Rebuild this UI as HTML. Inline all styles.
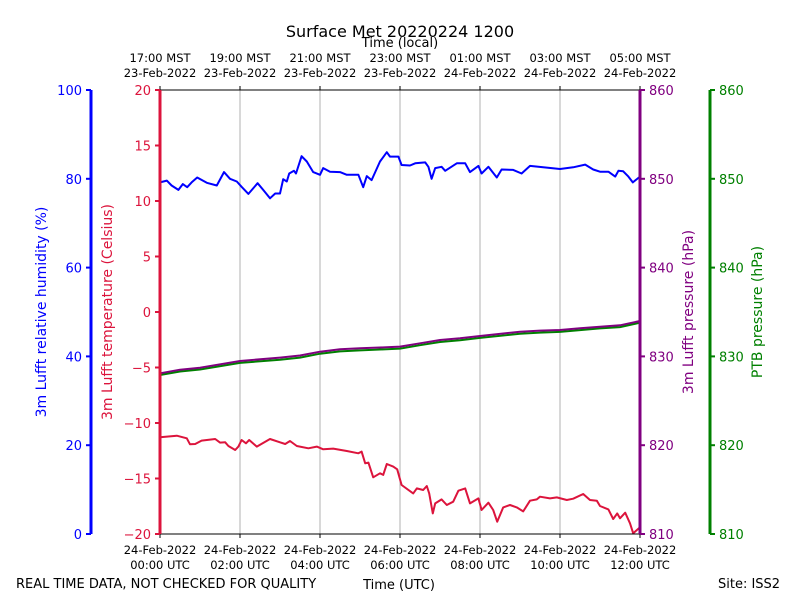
<!DOCTYPE html>
<html><head><meta charset="utf-8"><style>
body{margin:0;background:#fff}
svg{display:block;font-family:"DejaVu Sans","Liberation Sans",sans-serif}
</style></head><body>
<svg id="chart" width="800" height="600" viewBox="0 0 800 600" xmlns="http://www.w3.org/2000/svg">
<text x="400" y="37" font-size="16" text-anchor="middle">Surface Met 20220224 1200</text>
<text x="400" y="47" font-size="13" text-anchor="middle">Time (local)</text>
<text x="399" y="589" font-size="13" text-anchor="middle">Time (UTC)</text>
<text x="16" y="588" font-size="13">REAL TIME DATA, NOT CHECKED FOR QUALITY</text>
<text x="718" y="588" font-size="13">Site: ISS2</text>
<text transform="translate(46,312) rotate(-90)" font-size="14" fill="#0000ff" text-anchor="middle">3m Lufft relative humidity (%)</text>
<text transform="translate(112,312) rotate(-90)" font-size="14" fill="#dc143c" text-anchor="middle">3m Lufft temperature (Celsius)</text>
<text transform="translate(693,312) rotate(-90)" font-size="14" fill="#800080" text-anchor="middle">3m Lufft pressure (hPa)</text>
<text transform="translate(762,312) rotate(-90)" font-size="14" fill="#008000" text-anchor="middle">PTB pressure (hPa)</text>
<g id="g"></g>
</svg>
<script>
const humHours=[0,0.17,0.29,0.46,0.57,0.68,0.79,0.93,1.17,1.42,1.6,1.75,1.92,2.04,2.21,2.44,2.58,2.75,2.88,3.0,3.08,3.17,3.23,3.35,3.4,3.54,3.67,3.83,4.0,4.08,4.25,4.5,4.67,4.96,5.08,5.17,5.29,5.5,5.67,5.75,5.96,6.04,6.25,6.38,6.63,6.71,6.79,6.88,7.04,7.13,7.42,7.63,7.75,7.96,8.04,8.21,8.42,8.54,8.83,9.04,9.25,9.58,10.0,10.33,10.63,10.83,11.0,11.21,11.38,11.46,11.58,11.71,11.82,12.0];
const humidity=[79.2,79.6,78.5,77.5,78.8,78.1,79.2,80.3,79.1,78.5,81.5,80.0,79.4,78.2,76.6,79.0,77.5,75.6,76.7,76.7,79.9,79.4,81.2,81.8,81.2,85.1,83.9,81.5,80.9,82.4,81.6,81.5,80.9,80.9,78.1,80.6,79.7,83.9,86.0,85.0,85.0,83.1,83.0,83.5,83.7,82.7,80.0,82.4,82.7,81.8,83.5,83.5,81.5,82.9,81.2,82.7,80.3,82.1,82.0,81.2,82.9,82.6,82.2,82.6,83.2,82.1,81.6,81.6,80.5,81.8,81.7,80.5,79.2,80.5];
const tempHours=[0,0.42,0.67,0.75,0.88,1.04,1.38,1.5,1.63,1.71,1.88,1.96,2.04,2.15,2.23,2.42,2.75,3.0,3.13,3.25,3.42,3.71,3.92,4.08,4.33,4.67,4.96,5.04,5.13,5.21,5.33,5.5,5.58,5.67,5.83,5.93,6.04,6.33,6.42,6.58,6.67,6.73,6.82,6.88,7.04,7.17,7.33,7.46,7.63,7.75,7.96,8.04,8.21,8.33,8.43,8.58,8.75,8.92,9.08,9.25,9.42,9.5,9.75,9.92,10.17,10.33,10.58,10.75,10.92,11.0,11.21,11.33,11.43,11.5,11.63,11.75,11.83,12.0];
const temperature=[-11.29,-11.14,-11.38,-11.92,-11.89,-11.59,-11.44,-11.77,-11.74,-12.07,-12.43,-12.13,-11.53,-11.83,-11.53,-12.13,-11.44,-11.74,-11.89,-11.62,-12.07,-12.28,-12.13,-12.37,-12.31,-12.52,-12.73,-12.58,-13.63,-13.57,-14.89,-14.53,-14.68,-13.69,-13.93,-14.17,-15.59,-16.34,-15.89,-16.04,-15.68,-16.34,-18.14,-17.24,-16.88,-17.39,-17.09,-16.1,-15.89,-17.24,-16.79,-17.84,-17.18,-17.84,-18.89,-17.6,-17.39,-17.6,-17.96,-17.0,-16.88,-16.64,-16.79,-16.7,-16.94,-16.82,-16.4,-16.94,-17.0,-17.48,-17.78,-18.65,-18.14,-18.59,-18.08,-19.04,-19.94,-19.4];
const presHours=[0,0.5,1,2,3,3.5,4,4.5,5,5.5,6,6.5,7,7.5,8,9,9.5,10,10.5,11,11.5,12];
const lufftPressure=[828.1,828.5,828.73,829.48,829.86,830.1,830.53,830.8,830.91,831.0,831.1,831.48,831.85,832.04,832.3,832.78,832.9,832.97,833.16,833.35,833.5,833.99];
const ptbPressure=[827.9,828.3,828.52,829.27,829.63,829.86,830.3,830.56,830.68,830.78,830.88,831.26,831.62,831.82,832.08,832.56,832.68,832.76,832.96,833.15,833.3,833.8];
const bottomTicks=[["24-Feb-2022","00:00 UTC"],["24-Feb-2022","02:00 UTC"],["24-Feb-2022","04:00 UTC"],["24-Feb-2022","06:00 UTC"],["24-Feb-2022","08:00 UTC"],["24-Feb-2022","10:00 UTC"],["24-Feb-2022","12:00 UTC"]];
const topTicks=[["17:00 MST","23-Feb-2022"],["19:00 MST","23-Feb-2022"],["21:00 MST","23-Feb-2022"],["23:00 MST","23-Feb-2022"],["01:00 MST","24-Feb-2022"],["03:00 MST","24-Feb-2022"],["05:00 MST","24-Feb-2022"]];
const humTicks=[0,20,40,60,80,100];
const tempTicks=[-20,-15,-10,-5,0,5,10,15,20];
const presTicks=[810,820,830,840,850,860];

const L=160,R=640,T=90,B=534;
const xs=h=>L+(h/12)*(R-L);
const yHum=v=>B-(v/100)*(B-T);
const yTemp=v=>B-((v+20)/40)*(B-T);
const yPres=v=>B-((v-810)/50)*(B-T);
const NS="http://www.w3.org/2000/svg";
const g=document.getElementById('g');
function el(tag,attrs,parent){const e=document.createElementNS(NS,tag);for(const k in attrs)e.setAttribute(k,attrs[k]);(parent||g).appendChild(e);return e;}
function txt(x,y,s,attrs){const e=el('text',Object.assign({x:x,y:y,'font-size':13},attrs));e.textContent=s;return e;}

for(let i=1;i<6;i++){const ln=el('line',{x1:xs(i*2),x2:xs(i*2),y1:T,y2:B,stroke:'#b0b0b0','stroke-width':1});

}

function series(hrs,vals,yf,color,name){const d=hrs.map((h,i)=>(i?'L':'M')+xs(h).toFixed(1)+','+yf(vals[i]).toFixed(1)).join('');
const p=el('path',{d:d,fill:'none',stroke:color,'stroke-width':2,'stroke-linejoin':'round'});

}
series(humHours,humidity,yHum,'#0000ff','humidity-line');
series(tempHours,temperature,yTemp,'#dc143c','temperature-line');
series(presHours,ptbPressure,yPres,'#008000','ptb-pressure-line');
series(presHours,lufftPressure,yPres,'#800080','lufft-pressure-line');

const fb=el('line',{x1:L,x2:R,y1:B,y2:B,stroke:'#000','stroke-width':1});


const ft=el('line',{x1:L,x2:R,y1:T,y2:T,stroke:'#000','stroke-width':1});


bottomTicks.forEach((t,i)=>{const x=xs(i*2);el('line',{x1:x,x2:x,y1:B,y2:B+4,stroke:'#000'});
const a=txt(x,554,t[0],{'text-anchor':'middle','font-size':11.5});


const b=txt(x,569,t[1],{'text-anchor':'middle','font-size':11.5});

});
topTicks.forEach((t,i)=>{const x=xs(i*2);el('line',{x1:x,x2:x,y1:T-4,y2:T,stroke:'#000'});
const a=txt(x,62,t[0],{'text-anchor':'middle','font-size':11.5});


const b=txt(x,77,t[1],{'text-anchor':'middle','font-size':11.5});

});

function vaxis(x,ticks,yf,color,side,name){const s=el('line',{x1:x,x2:x,y1:T,y2:B,stroke:color,'stroke-width':3});


ticks.forEach(v=>{const y=yf(v);el('line',{x1:x,x2:x+side*5,y1:y,y2:y,stroke:color,'stroke-width':2});
const t=txt(side<0?x-9:x+9,y+5,String(v).replace('-','\u2212'),{fill:color,'text-anchor':side<0?'end':'start'});

});}
vaxis(91,humTicks,yHum,'#0000ff',-1,'humidity-axis');
vaxis(160,tempTicks,yTemp,'#dc143c',-1,'temperature-axis');
vaxis(640,presTicks,yPres,'#800080',1,'pressure-axis');
vaxis(710,presTicks,yPres,'#008000',1,'ptb-axis');
</script>
</body></html>
